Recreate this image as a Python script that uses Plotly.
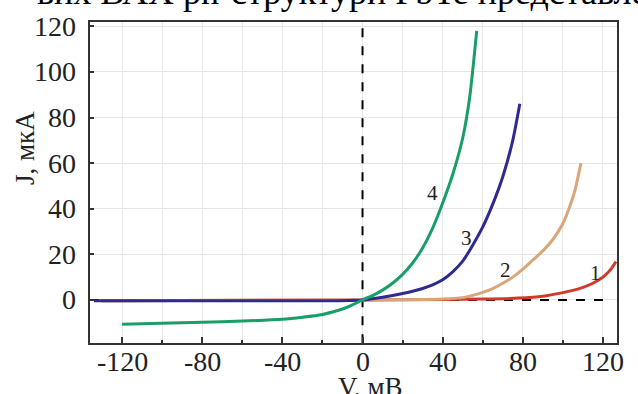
import plotly.graph_objects as go

# Curve 4 (green)
v4 = [-120, -100, -80, -60, -40, -30, -20, -15, -10, -5, 0, 5, 10, 15, 20, 25, 30, 35, 40, 45, 50, 53.5, 57]
j4 = [-10.7, -10.2, -9.8, -9.3, -8.5, -7.6, -6.4, -5.3, -4.0, -2.2, 0, 1.9, 4.3, 7.3, 11.2, 16.2, 22.8, 31.5, 42.5, 55, 71, 89, 118]
# Curve 3 (navy)
v3 = [-134, -100, -60, -20, 0, 10, 20, 25, 30, 35, 40, 45, 50, 55, 60, 65, 70, 75, 78.5]
j3 = [-0.4, -0.4, -0.4, -0.4, 0, 1.2, 2.8, 3.8, 5.0, 6.6, 8.8, 12.3, 17, 24, 32, 42, 54, 70, 86]
# Curve 2 (tan)
v2 = [-130, 0, 20, 40, 50, 55, 60, 65, 70, 75, 80, 85, 90, 95, 100, 103, 106, 109]
j2 = [-0.4, 0, 0.1, 0.4, 1.0, 2.0, 3.3, 5.0, 7.3, 10, 13.5, 17.5, 21.5, 26.5, 33.5, 40, 48, 60]
# Curve 1 (red)
v1 = [-130, 0, 40, 60, 78, 90, 100, 105, 110, 115, 118, 121, 124, 126.5]
j1 = [-0.4, 0, 0.2, 0.4, 0.8, 1.6, 3.2, 4.2, 5.5, 7.3, 8.8, 10.8, 13.5, 16.8]

labels = ["1", "2", "3", "4"]
label_v = [116.5, 71.5, 51.8, 35]
label_j = [12, 13, 27, 46.8]

x_ticks = [-120, -80, -40, 0, 40, 80, 120]
x_ticktext = ["-120", "-80", "-40", "0", "40", "80", "120"]
y_ticks = [-20, 0, 20, 40, 60, 80, 100, 120]
y_ticktext = ["-20", "0", "20", "40", "60", "80", "100", "120"]

FONT = "Liberation Serif"
TXT = "#222"
# plot area in pixels: x 90..617, y 22..343
PW, PH = 527, 321

fig = go.Figure()

# reference dashed lines
fig.add_trace(go.Scatter(x=[-136, 124], y=[0, 0], mode="lines",
                         line=dict(color="black", width=2, dash="dash"), hoverinfo="skip"))
fig.add_trace(go.Scatter(x=[0, 0], y=[-19, 122], mode="lines",
                         line=dict(color="black", width=2, dash="dash"), hoverinfo="skip"))

for vx, jy, col in [(v1, j1, "#cf3a2a"), (v2, j2, "#d8a679"), (v3, j3, "#2e2a8e"), (v4, j4, "#1a9e68")]:
    fig.add_trace(go.Scatter(x=vx, y=jy, mode="lines",
                             line=dict(color=col, width=3, shape="spline", smoothing=0.6)))

for t, vx, jy in zip(labels, label_v, label_j):
    fig.add_annotation(x=vx, y=jy, text=t, showarrow=False,
                       font=dict(family=FONT, size=21, color=TXT))

# tick labels (serif), placed on the axes' own scales
for v, t in zip(x_ticks, x_ticktext):
    fig.add_annotation(x=v, xref="x", y=-(362 - 343) / PH, yref="paper", text=t,
                       showarrow=False, xanchor="center", yanchor="middle",
                       font=dict(family=FONT, size=28, color=TXT))
for v, t in zip(y_ticks, y_ticktext):
    fig.add_annotation(x=(78 - 90) / PW, xref="paper", y=v, yref="y", text=t,
                       showarrow=False, xanchor="right", yanchor="middle",
                       font=dict(family=FONT, size=28, color=TXT))

# axis titles
fig.add_annotation(x=(370 - 90) / PW, xref="paper", y=-(370 - 343) / PH, yref="paper",
                   text="V, мВ", showarrow=False, xanchor="center", yanchor="top",
                   font=dict(family=FONT, size=27, color=TXT))
fig.add_annotation(x=(25 - 90) / PW, xref="paper", y=(343 - 148) / PH, yref="paper",
                   text="J, мкА", showarrow=False, textangle=-90, xanchor="center", yanchor="middle",
                   font=dict(family=FONT, size=27, color=TXT))

# cut-off document text above the chart
fig.add_annotation(xref="paper", yref="paper", x=(35 - 90) / PW, y=1 + 8 / PH,
                   xanchor="left", yanchor="bottom", showarrow=False,
                   text="вих ВАХ pn-структури PbTe представлено",
                   font=dict(family=FONT, size=36, color="black"))

fig.update_layout(
    width=638, height=394,
    margin=dict(l=90, r=21, t=22, b=51),
    paper_bgcolor="white", plot_bgcolor="white",
    showlegend=False,
    font=dict(family=FONT, size=28, color=TXT),
)
fig.update_xaxes(range=[-136, 127], tickvals=x_ticks, showticklabels=False, automargin=False,
                 showgrid=True, gridcolor="#e6e6e6", gridwidth=1,
                 minor=dict(dtick=20, tick0=0, showgrid=True, gridcolor="#e6e6e6",
                            ticks="inside", ticklen=3, tickcolor="#333"),
                 ticks="inside", ticklen=6, tickcolor="#333", tickwidth=1.5,
                 showline=True, linecolor="#333", linewidth=2, mirror=True, zeroline=False)
fig.update_yaxes(range=[-18.9, 121.9], tickvals=y_ticks, showticklabels=False, automargin=False,
                 showgrid=True, gridcolor="#e6e6e6", gridwidth=1,
                 ticks="inside", ticklen=4, tickcolor="#333", tickwidth=1.5,
                 showline=True, linecolor="#333", linewidth=2, mirror=True, zeroline=False)

fig.write_html("out.html")
